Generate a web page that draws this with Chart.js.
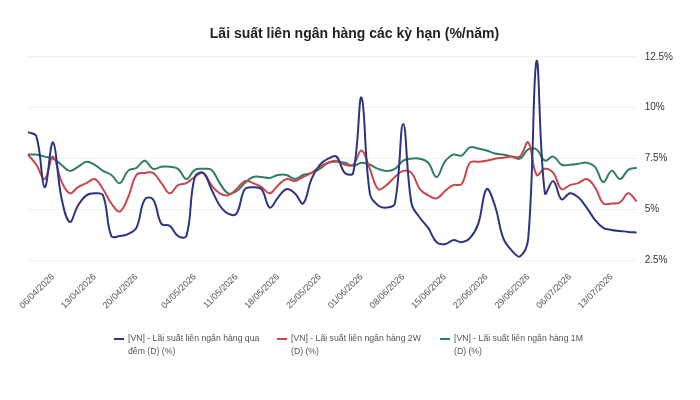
<!DOCTYPE html>
<html>
<head>
<meta charset="utf-8">
<script src="https://cdn.jsdelivr.net/npm/chart.js@4.4.1/dist/chart.umd.min.js"></script>
<style>
  html, body { margin: 0; padding: 0; background: #fff; }
  #wrap { position: relative; width: 700px; height: 400px; font-family: "Liberation Sans", Arial, sans-serif; }
  #legend .item { position: absolute; top: 332px; font-size: 8.7px; line-height: 12.5px; color: #555; white-space: nowrap; }
  #legend .mark { position: absolute; left: 0; top: 6px; width: 10px; height: 2px; }
  #legend .txt { margin-left: 14px; }
</style>
</head>
<body>
<div id="wrap">
  <canvas id="rateChart" width="700" height="400"></canvas>
  <div id="legend"></div>
</div>
<script>
// trading days
const dates = [
  "01/04/2026","02/04/2026","03/04/2026","06/04/2026","07/04/2026","08/04/2026","09/04/2026","10/04/2026",
  "13/04/2026","14/04/2026","15/04/2026","16/04/2026","17/04/2026","20/04/2026","21/04/2026","22/04/2026",
  "23/04/2026","24/04/2026","28/04/2026","29/04/2026","04/05/2026","05/05/2026","06/05/2026","07/05/2026",
  "08/05/2026","11/05/2026","12/05/2026","13/05/2026","14/05/2026","15/05/2026","18/05/2026","19/05/2026",
  "20/05/2026","21/05/2026","22/05/2026","25/05/2026","26/05/2026","27/05/2026","28/05/2026","29/05/2026",
  "01/06/2026","02/06/2026","03/06/2026","04/06/2026","05/06/2026","08/06/2026","09/06/2026","10/06/2026",
  "11/06/2026","12/06/2026","15/06/2026","16/06/2026","17/06/2026","18/06/2026","19/06/2026","22/06/2026",
  "23/06/2026","24/06/2026","25/06/2026","26/06/2026","29/06/2026","30/06/2026","01/07/2026","02/07/2026",
  "03/07/2026","06/07/2026","07/07/2026","08/07/2026","09/07/2026","10/07/2026","13/07/2026","14/07/2026",
  "15/07/2026","16/07/2026"
];

const tickLabels = [
  "06/04/2026","13/04/2026","20/04/2026","04/05/2026","11/05/2026","18/05/2026","25/05/2026",
  "01/06/2026","08/06/2026","15/06/2026","22/06/2026","29/06/2026","06/07/2026","13/07/2026"
];

const overnight = [
  8.8, 8.6, 6.1, 8.3, 5.6, 4.4, 5.2, 5.7, 5.8, 5.7, 3.7, 3.7, 3.8, 4.1, 5.5, 5.5,
  4.3, 4.2, 3.7, 3.7, 6.6, 6.8, 6.0, 5.2, 4.8, 4.8, 6.0, 6.1, 6.0, 5.1, 5.6, 6.0,
  5.8, 5.3, 6.5, 7.2, 7.5, 7.6, 6.8, 6.8, 10.5, 5.8, 5.2, 5.1, 5.3, 9.2, 5.3, 4.6,
  4.1, 3.4, 3.3, 3.5, 3.4, 3.6, 4.3, 6.0, 5.2, 3.6, 3.0, 2.7, 3.6, 12.3, 5.8, 6.4,
  5.5, 5.8, 5.6, 5.1, 4.5, 4.1, 4.0, 3.95, 3.9, 3.88
];

const twoWeek = [
  7.7, 7.2, 6.5, 7.6, 6.4, 5.8, 6.1, 6.3, 6.5, 6.0, 5.3, 4.9, 5.6, 6.7, 6.8, 6.8,
  6.3, 5.8, 6.2, 6.3, 6.6, 6.8, 6.2, 5.8, 5.7, 6.0, 6.4, 6.3, 6.1, 5.8, 6.2, 6.5,
  6.4, 6.6, 6.8, 7.1, 7.3, 7.4, 7.2, 7.2, 7.9, 7.0, 6.0, 6.2, 6.6, 6.9, 6.8, 6.0,
  5.7, 5.55, 5.9, 6.2, 6.25, 7.3, 7.35, 7.4, 7.5, 7.55, 7.6, 7.6, 8.3, 6.7, 7.0, 6.8,
  6.0, 6.2, 6.3, 6.5, 6.1, 5.3, 5.3, 5.35, 5.8, 5.4
];

const oneMonth = [
  7.7, 7.7, 7.6, 7.5, 7.2, 6.9, 7.1, 7.35, 7.2, 6.9, 6.7, 6.3, 6.9, 7.05, 7.4, 7.0,
  7.1, 7.1, 7.0, 6.5, 6.95, 7.0, 6.95, 6.3, 5.8, 5.9, 6.3, 6.6, 6.6, 6.55, 6.7, 6.7,
  6.5, 6.7, 6.8, 7.0, 7.3, 7.35, 7.3, 7.15, 7.3, 7.2, 7.0, 6.9, 7.0, 7.4, 7.5, 7.5,
  7.3, 6.6, 7.35, 7.7, 7.65, 8.05, 8.0, 7.9, 7.75, 7.7, 7.6, 7.5, 7.95, 7.95, 7.4, 7.6,
  7.2, 7.2, 7.25, 7.3, 7.1, 6.35, 6.9, 6.5, 6.95, 7.05
];

// legend names, split where the reference wraps them
const seriesNames = [
  ["[VN] - Lãi suất liên ngân hàng qua", "đêm (D) (%)"],
  ["[VN] - Lãi suất liên ngân hàng 2W", "(D) (%)"],
  ["[VN] - Lãi suất liên ngân hàng 1M", "(D) (%)"]
];
const seriesColors = ['#2e3580', '#c8474a', '#2f7d63'];

const ctx = document.getElementById('rateChart').getContext('2d');
const chart = new Chart(ctx, {
  type: 'line',
  data: {
    labels: dates,
    datasets: [overnight, twoWeek, oneMonth].map((d, i) => ({
      label: seriesNames[i].join(' '),
      data: d,
      borderColor: seriesColors[i],
      backgroundColor: seriesColors[i],
      borderWidth: 2,
      pointRadius: 0,
      tension: 0.4,
      fill: false
    }))
  },
  options: {
    responsive: false,
    animation: false,
    layout: { padding: { left: 28, right: 19, top: 10, bottom: 86 } },
    plugins: {
      legend: { display: false },
      tooltip: { enabled: false },
      title: {
        display: true,
        text: 'Lãi suất liên ngân hàng các kỳ hạn (%/năm)',
        color: '#222',
        font: { family: '"Liberation Sans", Arial, sans-serif', size: 14, weight: 'bold' },
        padding: { top: 16, bottom: 14 }
      }
    },
    scales: {
      x: {
        grid: { display: false },
        border: { display: false },
        ticks: {
          autoSkip: false,
          minRotation: 45,
          maxRotation: 45,
          color: '#555',
          font: { family: '"Liberation Sans", Arial, sans-serif', size: 9 },
          callback: function(val, i) {
            return tickLabels.includes(dates[i]) ? dates[i] : '';
          }
        }
      },
      y: {
        position: 'right',
        min: 2.5,
        max: 12.5,
        grid: { color: '#f0f0f0', drawTicks: false },
        border: { display: false },
        ticks: {
          stepSize: 2.5,
          padding: 8,
          color: '#333',
          font: { family: '"Liberation Sans", Arial, sans-serif', size: 10 },
          callback: v => v + '%'
        }
      }
    }
  }
});

// legend below the chart
const legendLeft = [114, 277, 440];
const legend = document.getElementById('legend');
seriesNames.forEach((lines, i) => {
  const item = document.createElement('div');
  item.className = 'item';
  item.style.left = legendLeft[i] + 'px';
  item.innerHTML = '<span class="mark" style="background:' + seriesColors[i] + '"></span><div class="txt">' + lines.join('<br>') + '</div>';
  legend.appendChild(item);
});
</script>
</body>
</html>
